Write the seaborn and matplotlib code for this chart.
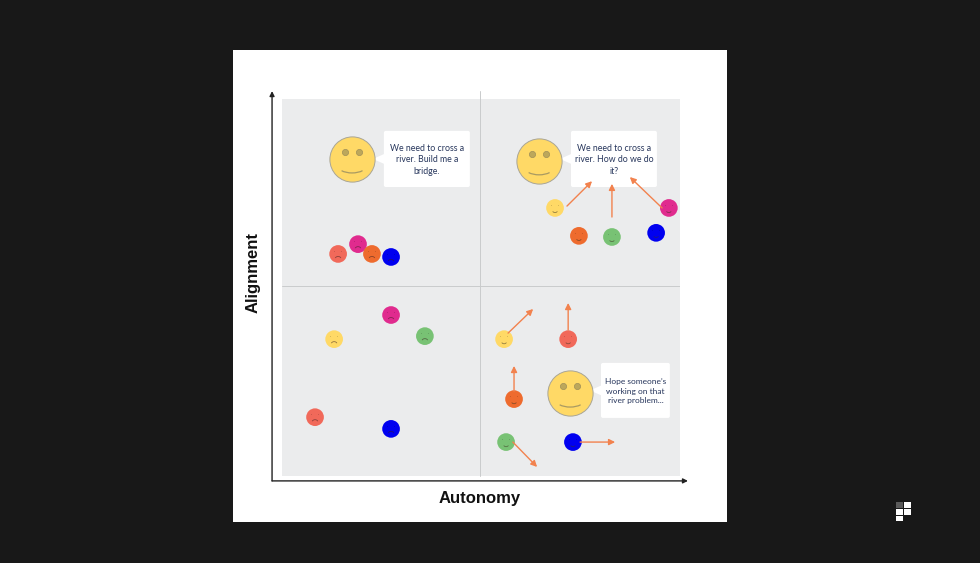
import matplotlib
matplotlib.use("Agg")
import matplotlib.pyplot as plt
import pandas as pd
import seaborn as sns
from matplotlib.patches import Arc, FancyBboxPatch, Polygon, Rectangle

# ---- data: scores 0-100 on the two axes of the grey square ----
team = ["coral", "magenta", "orange", "blue",
        "yellow", "magenta", "orange", "green", "blue",
        "magenta", "green", "yellow", "coral", "blue",
        "yellow", "coral", "orange", "green", "blue"]
autonomy = [14.1, 19.1, 22.6, 27.4,
            68.6, 97.2, 74.6, 82.9, 94.0,
            27.4, 35.9, 13.1, 8.3, 27.4,
            55.8, 71.9, 58.3, 56.3, 73.1]
alignment = [58.9, 61.5, 58.9, 58.1,
             71.1, 71.1, 63.7, 63.4, 64.5,
             42.7, 37.1, 36.3, 15.6, 12.5,
             36.3, 36.3, 20.4, 9.0, 9.0]
happy = [False] * 4 + [True] * 5 + [False] * 5 + [True] * 5

leader_x = [17.6, 64.6, 72.4]
leader_y = [84.1, 83.6, 22.0]

bubble_text = ["We need to cross a\nriver. Build me a\nbridge.",
               "We need to cross a\nriver. How do we do\nit?",
               "Hope someone’s\nworking on that\nriver problem..."]
bubble_x = [36.4, 83.4, 88.8]
bubble_y = [84.1, 84.1, 22.7]
bubble_w = [21.6, 21.6, 17.3]
bubble_h = [14.9, 14.9, 14.6]
bubble_pt = [6.3, 6.3, 6.0]
bubble_spacing = [1.32, 1.32, 1.42]

arrow_x0 = [71.6, 82.9, 95.5, 56.8, 71.9, 58.3, 58.0, 74.9]
arrow_y0 = [71.6, 68.7, 71.1, 37.9, 38.7, 22.5, 9.0, 9.0]
arrow_x1 = [77.9, 82.9, 87.4, 63.1, 71.9, 58.3, 64.1, 83.7]
arrow_y1 = [78.2, 77.5, 79.3, 44.3, 45.9, 29.2, 2.4, 9.0]

x_label = "Autonomy"
y_label = "Alignment"

palette = {"yellow": "#ffd966", "coral": "#f1695a", "magenta": "#e02b8e",
           "orange": "#ee6b2e", "green": "#78c274", "blue": "#0000f0"}

# ---- figure ----
W, H = 980, 563
PX, PY = 100 / 398, 100 / 377   # data units per pixel

sns.set_theme(style="white")
plt.rcParams["font.family"] = ["Liberation Sans", "DejaVu Sans"]

fig = plt.figure(figsize=(W / 100, H / 100), dpi=100, facecolor="#181818")
ax = fig.add_axes([282 / W, (H - 476) / H, 398 / W, 377 / H], facecolor="#ebeced")
ax.set_xlim(0, 100)
ax.set_ylim(0, 100)
ax.set_xticks([])
ax.set_yticks([])
sns.despine(ax=ax, left=True, bottom=True)

# white card
fig.add_artist(Rectangle((233 / W, (H - 522) / H), 494 / W, 472 / H,
                         transform=fig.transFigure, fc="white", ec="none", zorder=-1))

# quadrant guides
ax.plot([49.75, 49.75], [0, 102.1], color="#c9cbcc", lw=0.7, clip_on=False, zorder=1)
ax.plot([0, 100], [50.4, 50.4], color="#c9cbcc", lw=0.7, zorder=1)

# axes arrows
for end in [(102.0, -1.3), (-2.5, 102.1)]:
    ax.annotate("", xy=end, xytext=(-2.5, -1.3), annotation_clip=False,
                arrowprops=dict(arrowstyle="-|>", color="#222222", lw=1.0,
                                mutation_scale=7, shrinkA=0, shrinkB=0))

# bubbles
for txt, bx, by, bw, bh, pt, sp in zip(bubble_text, bubble_x, bubble_y, bubble_w, bubble_h,
                                       bubble_pt, bubble_spacing):
    pad = 0.5
    ax.add_patch(FancyBboxPatch((bx - bw / 2 + pad, by - bh / 2 + pad), bw - 2 * pad, bh - 2 * pad,
                                boxstyle=f"round,pad={pad},rounding_size={pad}",
                                fc="white", ec="none", zorder=3))
    left = bx - bw / 2
    ax.add_patch(Polygon([(left + 0.1, by + 5 * PY), (left + 0.1, by - 5 * PY),
                          (left - 11 * PX, by)], fc="white", ec="none", zorder=3))
    ax.text(bx, by - 1 * PY, txt, ha="center", va="center", color="#27365c", fontsize=pt,
            family=["Lato", "DejaVu Sans"], linespacing=sp, zorder=4)

# small faces
people = pd.DataFrame({"autonomy": autonomy, "alignment": alignment, "team": team})
sns.scatterplot(data=people, x="autonomy", y="alignment", hue="team", palette=palette,
                s=162, linewidth=0, legend=False, ax=ax, zorder=5, clip_on=False)
for cx, cy, ok in zip(autonomy, alignment, happy):
    for side in (-1, 1):
        ax.add_patch(Rectangle((cx + side * 3.4 * PX - 0.5 * PX, cy + 2.2 * PY - 0.5 * PY), 1 * PX, 1 * PY,
                               fc="#000000", alpha=0.15, ec="none", zorder=6))
    if ok:
        ax.add_patch(Arc((cx, cy - 2.6 * PY), 5 * PX, 4 * PY, theta1=200, theta2=340,
                         color="#3a3320", alpha=0.55, lw=0.6, zorder=6))
    else:
        ax.add_patch(Arc((cx, cy - 5 * PY), 6 * PX, 5 * PY, theta1=20, theta2=160,
                         color="#3a2020", alpha=0.55, lw=0.6, zorder=6))

# leader faces
leaders = pd.DataFrame({"autonomy": leader_x, "alignment": leader_y})
sns.scatterplot(data=leaders, x="autonomy", y="alignment", color="#ffd966", s=1060,
                edgecolor="#a9a595", linewidth=0.7, legend=False, ax=ax, zorder=5)
for cx, cy in zip(leader_x, leader_y):
    eyes = pd.DataFrame({"autonomy": [cx - 7.3 * PX, cx + 7.3 * PX],
                         "alignment": [cy + 7 * PY, cy + 7 * PY]})
    sns.scatterplot(data=eyes, x="autonomy", y="alignment", color="#bda75b", s=20,
                    edgecolor="#a08f58", linewidth=0.5, legend=False, ax=ax, zorder=6)
    ax.add_patch(Arc((cx, cy - 6 * PY), 30 * PX, 16 * PY, theta1=210, theta2=330,
                     color="#a99a62", lw=0.9, zorder=6))

# arrows
for x0, y0, x1, y1 in zip(arrow_x0, arrow_y0, arrow_x1, arrow_y1):
    ax.annotate("", xy=(x1, y1), xytext=(x0, y0), annotation_clip=False, zorder=7,
                arrowprops=dict(arrowstyle="-|>", color="#f2824e", lw=1.0,
                                mutation_scale=9, shrinkA=0, shrinkB=0))

ax.set_xlim(0, 100)
ax.set_ylim(0, 100)

# axis titles (seaborn hides them when the ticks are off)
ax.set_xlabel(x_label, fontsize=12, fontweight="bold", color="#111111", va="center", visible=True)
ax.set_ylabel(y_label, fontsize=12, fontweight="bold", color="#111111", va="center", visible=True)
ax.xaxis.set_label_coords(0.4975, -0.061)
ax.yaxis.set_label_coords(-0.073, 0.539)

# brand mark
cells = [(896, 502.3, "#5a5a5a"), (904, 502.3, "white"), (896, 509, "white"),
         (904, 509, "white"), (896, 515.7, "white")]
for lx, ty, col in cells:
    fig.add_artist(Rectangle((lx / W, (H - ty - 5.7) / H), 6.7 / W, 5.7 / H,
                             transform=fig.transFigure, fc=col, ec="none"))

fig.savefig("out.png", dpi=100, facecolor=fig.get_facecolor())
